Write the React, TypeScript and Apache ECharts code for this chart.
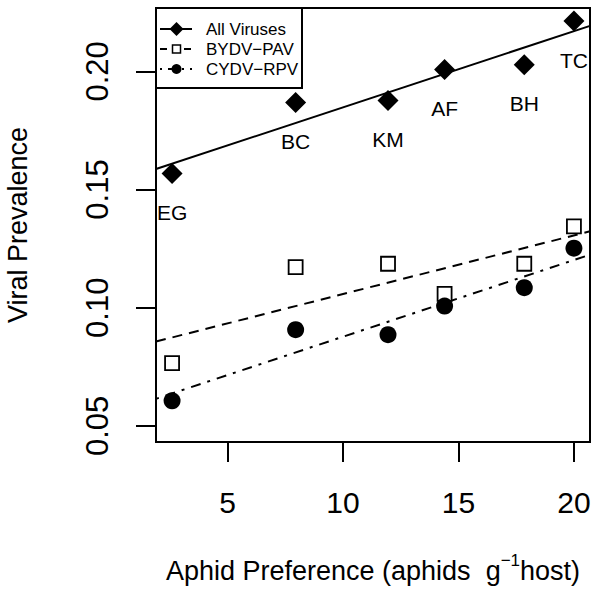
import React, { useEffect, useRef } from "react";
import * as echarts from "echarts";

// ---- data ----
const sites = ["EG", "BC", "KM", "AF", "BH", "TC"];
const aphidPreference = [2.6, 7.95, 11.95, 14.4, 17.85, 20.0];
const allViruses = [0.1568, 0.1868, 0.1877, 0.2008, 0.2028, 0.2213];
const bydvPav = [0.0766, 0.1172, 0.1186, 0.1059, 0.1186, 0.1344];
const cydvRpv = [0.0606, 0.0907, 0.0886, 0.1007, 0.1085, 0.1252];

const xLim = [1.904, 20.696];
const yLim = [0.0432, 0.2268];
const xTicks = [5, 10, 15, 20];
const yTicks = [0.05, 0.1, 0.15, 0.2];

const FONT = "'Liberation Sans', Arial, Helvetica, sans-serif";

function fitLine(xs: number[], ys: number[]) {
  const n = xs.length;
  const mx = xs.reduce((a, b) => a + b, 0) / n;
  const my = ys.reduce((a, b) => a + b, 0) / n;
  let sxy = 0;
  let sxx = 0;
  for (let i = 0; i < n; i++) {
    sxy += (xs[i] - mx) * (ys[i] - my);
    sxx += (xs[i] - mx) * (xs[i] - mx);
  }
  const b = sxy / sxx;
  const a = my - b * mx;
  return [
    [xLim[0], a + b * xLim[0]],
    [xLim[1], a + b * xLim[1]],
  ];
}

function pts(ys: number[]) {
  return ys.map((y, i) => ({ name: sites[i], value: [aphidPreference[i], y] }));
}

export default function App() {
  const ref = useRef<HTMLDivElement>(null);
  useEffect(() => {
    if (!ref.current) return;
    const chart = echarts.init(ref.current, null, { renderer: "svg" });
    const legendRows = [
      { y: 29, name: "All Viruses" },
      { y: 49, name: "BYDV\u2212PAV" },
      { y: 69, name: "CYDV\u2212RPV" },
    ];
    chart.setOption({
      animation: false,
      backgroundColor: "#fff",
      textStyle: { fontFamily: FONT, color: "#000" },
      grid: {
        left: 156,
        right: 10,
        top: 8,
        bottom: 161,
        containLabel: false,
        outerBoundsMode: "none",
        show: true,
        borderColor: "#000",
        borderWidth: 2,
        backgroundColor: "transparent",
      },
      xAxis: {
        type: "value",
        min: xLim[0],
        max: xLim[1],
        splitLine: { show: false },
        axisLine: { show: false },
        axisTick: {
          show: true,
          length: 20,
          customValues: xTicks,
          lineStyle: { color: "#000", width: 2 },
        },
        axisLabel: {
          customValues: xTicks,
          margin: 45,
          fontSize: 30,
          fontFamily: FONT,
          color: "#000",
        },
        name: "{t|Aphid Preference (aphids  g}{s|\u22121}{t|host)}",
        nameLocation: "middle",
        nameGap: 110,
        nameTextStyle: {
          rich: {
            t: {
              fontSize: 27,
              lineHeight: 32,
              fontFamily: FONT,
              color: "#000",
              verticalAlign: "bottom",
            },
            s: {
              fontSize: 17,
              lineHeight: 17,
              fontFamily: FONT,
              color: "#000",
              verticalAlign: "top",
            },
          },
        },
      },
      yAxis: {
        type: "value",
        min: yLim[0],
        max: yLim[1],
        splitLine: { show: false },
        axisLine: { show: false },
        axisTick: {
          show: true,
          length: 20,
          customValues: yTicks,
          lineStyle: { color: "#000", width: 2 },
        },
        axisLabel: {
          customValues: yTicks,
          rotate: 90,
          margin: 43,
          fontSize: 31,
          fontFamily: FONT,
          color: "#000",
          formatter: (v: number) => v.toFixed(2),
        },
        name: "Viral Prevalence",
        nameLocation: "middle",
        nameGap: 125,
        nameTextStyle: { fontSize: 27, fontFamily: FONT, color: "#000" },
      },
      series: [
        {
          type: "line",
          data: fitLine(aphidPreference, allViruses),
          symbol: "none",
          lineStyle: { color: "#000", width: 2, type: "solid" },
          z: 1,
        },
        {
          type: "line",
          data: fitLine(aphidPreference, bydvPav),
          symbol: "none",
          lineStyle: { color: "#000", width: 2, type: [10, 7] },
          z: 1,
        },
        {
          type: "line",
          data: fitLine(aphidPreference, cydvRpv),
          symbol: "none",
          lineStyle: { color: "#000", width: 2, type: [3, 7, 10, 7] },
          z: 1,
        },
        {
          name: "All Viruses",
          type: "scatter",
          data: pts(allViruses),
          symbol: "diamond",
          symbolSize: 21,
          itemStyle: { color: "#000", opacity: 1 },
          label: {
            show: true,
            position: "inside",
            offset: [0, 39],
            formatter: "{b}",
            fontSize: 21,
            fontFamily: FONT,
            color: "#000",
            opacity: 1,
          },
          z: 3,
        },
        {
          name: "BYDV-PAV",
          type: "scatter",
          data: pts(bydvPav),
          symbol: "rect",
          symbolSize: 14,
          itemStyle: { color: "#fff", borderColor: "#000", borderWidth: 1.8, opacity: 1 },
          z: 3,
        },
        {
          name: "CYDV-RPV",
          type: "scatter",
          data: pts(cydvRpv),
          symbol: "circle",
          symbolSize: 17,
          itemStyle: { color: "#000", opacity: 1 },
          z: 3,
        },
      ],
      graphic: [
        {
          type: "group",
          z: 10,
          children: [
            {
              type: "rect",
              shape: { x: 156, y: 8, width: 146, height: 80 },
              style: { fill: "#fff", stroke: "#000", lineWidth: 2 },
            },
            {
              type: "line",
              shape: { x1: 160, y1: legendRows[0].y, x2: 192, y2: legendRows[0].y },
              style: { stroke: "#000", lineWidth: 2 },
            },
            {
              type: "polygon",
              shape: {
                points: [
                  [176.5, legendRows[0].y - 7],
                  [183.5, legendRows[0].y],
                  [176.5, legendRows[0].y + 7],
                  [169.5, legendRows[0].y],
                ],
              },
              style: { fill: "#000" },
            },
            {
              type: "line",
              shape: { x1: 160, y1: legendRows[1].y, x2: 192, y2: legendRows[1].y },
              style: { stroke: "#000", lineWidth: 2, lineDash: [7, 5] },
            },
            {
              type: "rect",
              shape: { x: 172.5, y: legendRows[1].y - 4, width: 8, height: 8 },
              style: { fill: "#fff", stroke: "#000", lineWidth: 1.5 },
            },
            {
              type: "line",
              shape: { x1: 160, y1: legendRows[2].y, x2: 192, y2: legendRows[2].y },
              style: { stroke: "#000", lineWidth: 2, lineDash: [2, 6, 8, 6] },
            },
            {
              type: "circle",
              shape: { cx: 176.5, cy: legendRows[2].y, r: 5 },
              style: { fill: "#000" },
            },
            ...legendRows.map((r) => ({
              type: "text",
              x: 206,
              y: r.y,
              style: {
                text: r.name,
                fontSize: 17,
                fontFamily: FONT,
                fill: "#000",
                verticalAlign: "middle",
                align: "left",
              },
            })),
          ],
        },
      ],
    });
    return () => chart.dispose();
  }, []);
  return (
    <div
      ref={ref}
      style={{ position: "absolute", left: 0, top: 0, width: 600, height: 603 }}
    />
  );
}
